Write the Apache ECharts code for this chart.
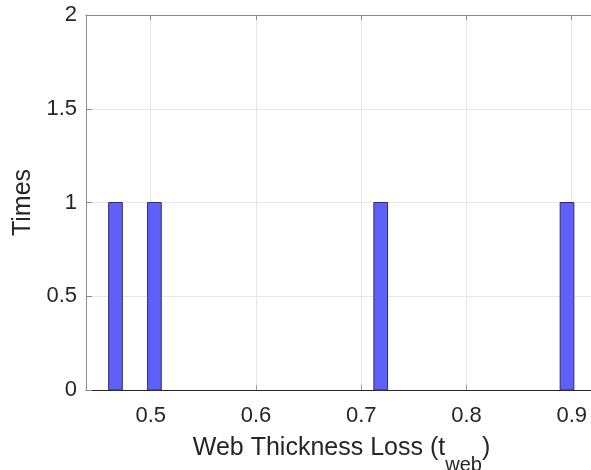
<!DOCTYPE html>
<html>
<head>
<meta charset="utf-8">
<style>
  html, body { margin: 0; padding: 0; background: #ffffff; }
  #chart { width: 591px; height: 470px; }
</style>
<script src="https://cdn.jsdelivr.net/npm/echarts@6/dist/echarts.min.js"></script>
</head>
<body>
<div id="chart"></div>
<script>
// Histogram bins: left edge, right edge, count
const binStart = [0.460, 0.497, 0.712, 0.889];
const binEnd   = [0.473, 0.510, 0.725, 0.902];
const counts   = [1, 1, 1, 1];

const xTicks = [0.5, 0.6, 0.7, 0.8, 0.9];
const yTicks = [0, 0.5, 1, 1.5, 2];

const xMin = 0.4385, xMax = 0.924;
const yMin = 0, yMax = 2;

const font = 'Liberation Sans, Arial, Helvetica, sans-serif';

const chart = echarts.init(document.getElementById('chart'), null, { renderer: 'canvas' });

const binData = binStart.map((s, i) => [s, binEnd[i], counts[i]]);

const option = {
  backgroundColor: '#ffffff',
  animation: false,
  grid: { left: 86, top: 15, width: 511, height: 375, containLabel: false, outerBoundsMode: 'none' },
  xAxis: [
    {
      type: 'value', min: xMin, max: xMax, position: 'bottom',
      axisLine: { show: true, onZero: false, lineStyle: { color: '#262626', width: 1 } },
      axisTick: { show: true, inside: true, length: 5, customValues: xTicks, lineStyle: { color: '#9a9a9a' } },
      axisLabel: {
        customValues: xTicks, margin: 15, color: '#262626', fontFamily: font, fontSize: 22,
        formatter: v => String(+v.toFixed(2))
      },
      splitLine: { show: false },
      name: '{m|Web Thickness Loss (t}{s|web}{m|)}',
      nameLocation: 'middle', nameGap: 46,
      nameTextStyle: {
        rich: {
          m: { fontFamily: font, fontSize: 25, color: '#262626', verticalAlign: 'top', lineHeight: 30 },
          s: { fontFamily: font, fontSize: 20, color: '#262626', verticalAlign: 'top', lineHeight: 22, padding: [19, 0, 0, 0] }
        }
      }
    },
    {
      type: 'value', min: xMin, max: xMax, position: 'top',
      axisLine: { show: true, onZero: false, lineStyle: { color: '#8c8c8c', width: 1 } },
      axisTick: { show: true, inside: true, length: 5, customValues: xTicks, lineStyle: { color: '#8c8c8c' } },
      axisLabel: { show: false },
      splitLine: { show: false }
    }
  ],
  yAxis: {
    type: 'value', min: yMin, max: yMax, interval: 0.5,
    axisLine: { show: true, onZero: false, lineStyle: { color: '#8c8c8c', width: 1 } },
    axisTick: { show: true, inside: true, length: 6, lineStyle: { color: '#8c8c8c' } },
    axisLabel: { margin: 9, color: '#262626', fontFamily: font, fontSize: 22, formatter: v => String(v) },
    splitLine: { show: true, lineStyle: { color: '#e6e6e6', width: 1 } },
    name: 'Times', nameLocation: 'middle', nameGap: 44, nameRotate: 90,
    nameTextStyle: { fontFamily: font, fontSize: 25, color: '#262626' }
  },
  series: [
    {
      // vertical grid lines at the x ticks, kept beneath the bars
      type: 'line', xAxisIndex: 0, data: [], silent: true, z: 0,
      markLine: {
        symbol: 'none', silent: true, label: { show: false }, z: 0,
        lineStyle: { color: '#e6e6e6', width: 1, type: 'solid' },
        data: xTicks.map(v => ({ xAxis: v }))
      }
    },
    {
      type: 'custom', xAxisIndex: 0, z: 5,
      data: binData,
      encode: { x: [0, 1], y: 2 },
      renderItem: function (params, api) {
        const p0 = api.coord([api.value(0), 0]);
        const p1 = api.coord([api.value(1), api.value(2)]);
        return {
          type: 'rect',
          shape: { x: p0[0], y: p1[1], width: p1[0] - p0[0], height: p0[1] - p1[1] },
          style: { fill: '#5f5ff9', stroke: '#2e2e6e', lineWidth: 1 }
        };
      }
    }
  ]
};

chart.setOption(option);
</script>
</body>
</html>
